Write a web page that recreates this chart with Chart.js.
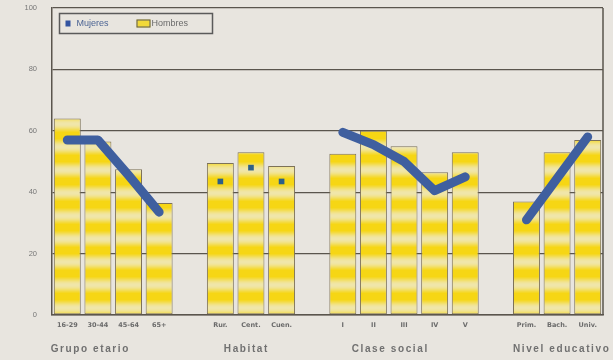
<!DOCTYPE html>
<html>
<head>
<meta charset="utf-8">
<script src="https://cdn.jsdelivr.net/npm/chart.js@4.4.0/dist/chart.umd.min.js"></script>
<style>
  html, body { margin: 0; padding: 0; background: #e8e5df; }
  #wrap { width: 613px; height: 360px; }
</style>
</head>
<body>
<div id="wrap"><canvas id="chart" width="613" height="360"></canvas></div>
<script>
// Categories (empty strings are the gaps between groups)
const categories = ['16-29', '30-44', '45-64', '65+', '',
                    'Rur.', 'Cent.', 'Cuen.', '',
                    'I', 'II', 'III', 'IV', 'V', '',
                    'Prim.', 'Bach.', 'Univ.'];

// Hombres (bars)
const hombres = [64, 56.5, 47.5, 36.5, null,
                 49.5, 53, 48.5, null,
                 52.5, 60, 55, 46.5, 53, null,
                 37, 53, 57];

// Mujeres (thick line per group)
const mujeresLine = [57, 57, 45.5, 33.5, null,
                     null, null, null, null,
                     59.5, 55.5, 50, 40.5, 45, null,
                     31, 44.5, 58];

// Mujeres in Habitat group (square markers only)
const mujeresHabitat = [null, null, null, null, null,
                        43.5, 48, 43.5, null,
                        null, null, null, null, null, null,
                        null, null, null];

const yTicks = [0, 20, 40, 60, 80, 100];

const groupLabels = ['Grupo etario', 'Habitat', 'Clase social', 'Nivel educativo'];
const groupLabelAt = [0.75, 5.85, 10.55, 16.15]; // category index where the group title is centred

const BG = '#e8e5df';
const GRID = '#5a554d';
const BLUE = '#3f5f9f';

// Striped yellow fill for the bars
function stripePattern() {
    const h = 23;
    const c = document.createElement('canvas');
    c.width = 4; c.height = h;
    const g = c.getContext('2d');
    const pale = [240, 230, 170], bright = [246, 214, 20];
    for (let y = 0; y < h; y++) {
        let t = 0.5 + 0.5 * Math.cos(2 * Math.PI * (y - 20) / h);
        t = Math.min(1, t * 1.2);
        const col = pale.map((p, i) => Math.round(p + (bright[i] - p) * t));
        g.fillStyle = `rgb(${col[0]},${col[1]},${col[2]})`;
        g.fillRect(0, y, 4, 1);
    }
    return g.createPattern(c, 'repeat');
}

const decorPlugin = {
    id: 'decor',
    beforeDraw(chart) {
        const ctx = chart.ctx;
        ctx.save();
        ctx.fillStyle = BG;
        ctx.fillRect(0, 0, chart.width, chart.height);
        ctx.restore();
    },
    afterDraw(chart) {
        const ctx = chart.ctx;
        const a = chart.chartArea;
        const x = chart.scales.x;
        ctx.save();

        // right border of the plot
        ctx.strokeStyle = GRID;
        ctx.lineWidth = 1.5;
        ctx.beginPath();
        ctx.moveTo(a.right, a.top);
        ctx.lineTo(a.right, a.bottom);
        ctx.stroke();

        // legend box
        const lx = a.left + 7.5, ly = a.top + 5.5;
        ctx.lineWidth = 1.5;
        ctx.strokeStyle = '#5a5a5a';
        ctx.strokeRect(lx, ly, 153, 20);

        const cy = ly + 10;
        ctx.fillStyle = '#3354a0';
        ctx.fillRect(lx + 6, cy - 3, 5, 6);
        ctx.font = '9px "Liberation Sans", Arial, sans-serif';
        ctx.textBaseline = 'middle';
        ctx.textAlign = 'left';
        ctx.fillStyle = '#4d6594';
        ctx.fillText(chart.data.datasets[1].label, lx + 17, cy + 0.5);

        ctx.fillStyle = '#f2d93a';
        ctx.fillRect(lx + 77, cy - 4, 14, 8);
        ctx.lineWidth = 1;
        ctx.strokeStyle = '#5a5a5a';
        ctx.strokeRect(lx + 77.5, cy - 3.5, 13, 7);
        ctx.fillStyle = '#6a6a6a';
        ctx.fillText(chart.data.datasets[0].label, lx + 92, cy + 0.5);

        // group titles under the axis
        ctx.font = 'bold 10px "Liberation Sans", Arial, sans-serif';
        if ('letterSpacing' in ctx) ctx.letterSpacing = '1.6px';
        ctx.fillStyle = '#707070';
        ctx.textAlign = 'center';
        groupLabels.forEach((lab, i) => {
            const px = x.left + (groupLabelAt[i] + 0.5) * (x.width / categories.length);
            ctx.fillText(lab, px, 349);
        });
        ctx.restore();
    }
};

const ctx = document.getElementById('chart').getContext('2d');
new Chart(ctx, {
    data: {
        labels: categories,
        datasets: [{
            type: 'bar',
            label: 'Hombres',
            data: hombres,
            backgroundColor: stripePattern(),
            borderColor: '#7d7258',
            borderWidth: 1,
            borderSkipped: false,
            barPercentage: 0.88,
            categoryPercentage: 1,
            order: 2
        }, {
            type: 'line',
            label: 'Mujeres',
            data: mujeresLine,
            borderColor: BLUE,
            backgroundColor: BLUE,
            borderWidth: 9,
            borderCapStyle: 'round',
            borderJoinStyle: 'round',
            pointRadius: 0,
            spanGaps: false,
            tension: 0,
            clip: false,
            order: 1
        }, {
            type: 'line',
            label: 'Mujeres (Habitat)',
            data: mujeresHabitat,
            showLine: false,
            pointStyle: 'rect',
            pointRadius: 4,
            pointBackgroundColor: '#2d6088',
            pointBorderColor: '#2d6088',
            pointBorderWidth: 0,
            order: 0
        }]
    },
    options: {
        responsive: false,
        animation: false,
        devicePixelRatio: 1,
        layout: { autoPadding: false, padding: { top: 8, right: 10, left: 0, bottom: 0 } },
        plugins: {
            legend: { display: false },
            tooltip: { enabled: false }
        },
        scales: {
            x: {
                offset: true,
                grid: { display: false, drawTicks: false },
                border: { color: GRID, width: 1.5 },
                ticks: {
                    autoSkip: false,
                    maxRotation: 0,
                    padding: 6,
                    color: '#6b6b6b',
                    font: { family: 'DejaVu Sans', size: 6.5, weight: 'bold' }
                },
                afterFit: s => { s.height = 45; }
            },
            y: {
                min: 0,
                max: 100,
                afterBuildTicks: s => { s.ticks = yTicks.map(v => ({ value: v })); },
                grid: { color: GRID, lineWidth: 1.3, drawTicks: false },
                border: { color: GRID, width: 1.5 },
                ticks: {
                    padding: 15,
                    color: '#777',
                    font: { family: 'Liberation Sans', size: 7.5 }
                },
                afterFit: s => { s.width = 52; s.paddingTop = 4; s.paddingBottom = 4; }
            }
        }
    },
    plugins: [decorPlugin]
});
</script>
</body>
</html>
